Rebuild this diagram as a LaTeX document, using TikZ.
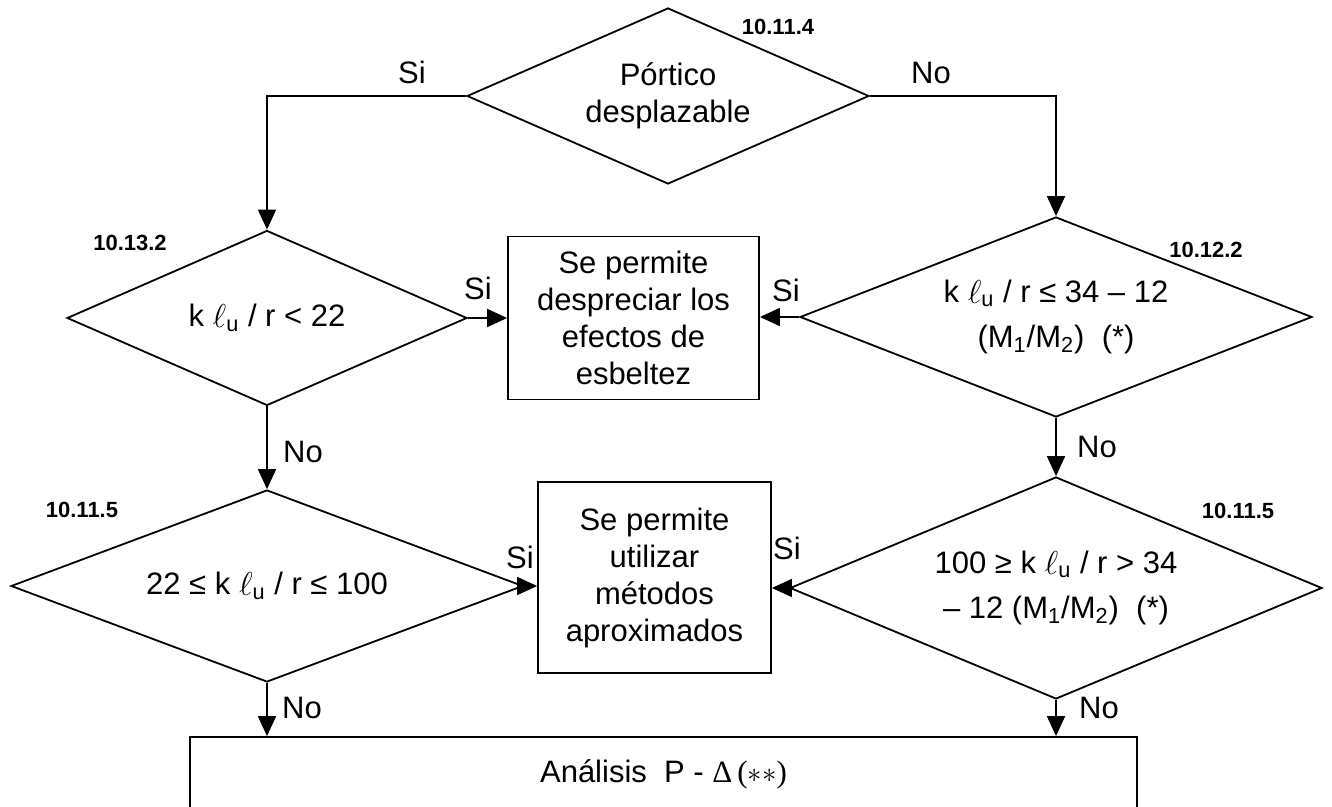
\documentclass[tikz,border=0pt]{standalone}
\usepackage{fontspec}
\setmainfont{Liberation Sans}
\newfontfamily\serifface{Liberation Serif}
\usetikzlibrary{shapes.geometric,arrows.meta}
\newcommand{\lu}{k \raisebox{-0.3pt}{\scalebox{1.15}{$\ell$}}\textsubscript{u}}
\begin{document}
\begin{tikzpicture}[x=0.5pt,y=-0.5pt,
  font=\fontsize{15.5pt}{18.5pt}\selectfont,
  every node/.style={text=black},
  dec/.style={draw, shape=diamond, inner sep=0pt, align=center, line width=0.9pt},
  proc/.style={draw, rectangle, inner sep=0pt, align=center, line width=0.9pt},
  ref/.style={font=\fontsize{11pt}{13pt}\selectfont\bfseries, inner sep=0pt},
  ans/.style={inner sep=0pt},
  arr/.style={line width=0.9pt, -{Triangle[length=10pt,width=9pt]}},
  ln/.style={line width=0.9pt}]
\useasboundingbox (0,0) rectangle (1332,807);
\clip (0,0) rectangle (1332,807);

% decisions
\node[dec, shape aspect=2.28, minimum width=201pt, minimum height=88pt] (d1) at (668,96) {Pórtico\\desplazable};
\node[dec, shape aspect=2.29, minimum width=200pt, minimum height=87.5pt] (d2) at (267,318) {\lu{} / r < 22};
\node[dec, shape aspect=2.56, minimum width=256pt, minimum height=100pt] (d3) at (1056,317) {\lu{} / r ≤ 34 – 12\\[4pt](M\textsubscript{1}/M\textsubscript{2})~~(*)};
\node[dec, shape aspect=2.67, minimum width=256pt, minimum height=96pt] (d4) at (267,586) {22 ≤ \lu{} / r ≤ 100};
\node[dec, shape aspect=2.4, minimum width=266pt, minimum height=111pt] (d5) at (1056,588) {100 ≥ \lu{} / r > 34\\[4pt]– 12 (M\textsubscript{1}/M\textsubscript{2})~~(*)};

% process boxes
\node[proc, minimum width=125.5pt, minimum height=81.5pt] (b1) at (633.5,318) {Se permite\\despreciar los\\efectos de\\esbeltez};
\node[proc, minimum width=116.5pt, minimum height=95.5pt] (b2) at (654.5,577.5) {Se permite\\utilizar\\métodos\\aproximados};
\node[proc, minimum width=473.5pt, minimum height=37pt] (ana) at (663.5,774) {Análisis~~P - {\serifface Δ\,(}$\ast\ast${\serifface )}};

% reference labels
\node[ref] (r1) at (778,27) {10.11.4};
\node[ref] (r2) at (130,243) {10.13.2};
\node[ref] (r3) at (1206,250) {10.12.2};
\node[ref] (r4) at (82,510) {10.11.5};
\node[ref] (r5) at (1238,511) {10.11.5};

% answer labels
\node[ans] (a1) at (412,72) {Si};
\node[ans] (a2) at (931,73) {No};
\node[ans] (a3) at (478,288) {Si};
\node[ans] (a4) at (786,290) {Si};
\node[ans] (a5) at (303,452) {No};
\node[ans] (a6) at (1097,447) {No};
\node[ans] (a7) at (520,557) {Si};
\node[ans] (a8) at (787,548) {Si};
\node[ans] (a9) at (302,708) {No};
\node[ans] (a10) at (1099,708) {No};

% connectors
\draw[arr] (d1.west) -| (d2.north);
\draw[arr] (d1.east) -| (d3.north);
\draw[arr] (d2.east) -- (d2.east -| b1.west);
\draw[arr] (d3.west) -- (d3.west -| b1.east);
\draw[arr] (d2.south) -- (d4.north);
\draw[arr] (d3.south) -- (d5.north);
\draw[arr] (d4.east) -- (d4.east -| b2.west);
\draw[arr] (d5.west) -- (d5.west -| b2.east);
\draw[arr] (d4.south) -- (d4.south |- ana.north);
\draw[arr] (d5.south) -- (d5.south |- ana.north);
\end{tikzpicture}
\end{document}
